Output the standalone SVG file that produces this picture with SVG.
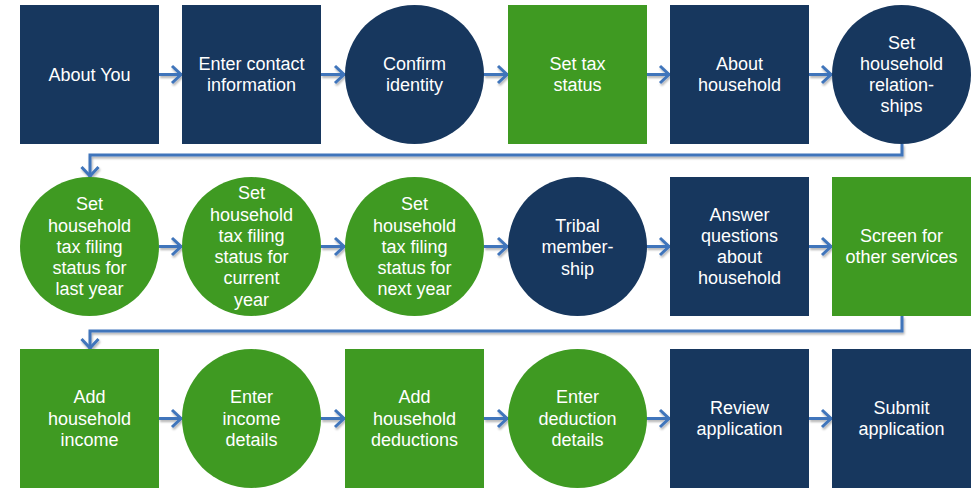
<svg xmlns="http://www.w3.org/2000/svg" width="979" height="489" viewBox="0 0 979 489">
  <style>
    .navy { fill: #17375e; }
    .green { fill: #3f9a22; }
    .lbl { font-family: "Liberation Sans", Arial, sans-serif; font-size: 18px; fill: #ffffff; text-anchor: middle; }
    .conn { fill: none; stroke: #3f74bb; stroke-width: 3; marker-end: url(#chev); }
  </style>
  <defs>
    <marker id="chev" markerUnits="userSpaceOnUse" viewBox="-14 -12 16 24" refX="0" refY="0" markerWidth="16" markerHeight="24" orient="auto">
      <path d="M-10,-8.5 L-1,0 L-10,8.5" fill="none" stroke="#3f74bb" stroke-width="3"/>
    </marker>
    <filter id="sh" x="-10%" y="-10%" width="120%" height="140%">
      <feDropShadow dx="1" dy="2" stdDeviation="1.2" flood-color="#000" flood-opacity="0.3"/>
    </filter>
  </defs>

  <rect width="979" height="489" fill="#ffffff"/>

  <!-- step connectors -->
  <g id="connectors" filter="url(#sh)">
    <line class="conn" x1="159" y1="74.5" x2="182" y2="74.5"/>
    <line class="conn" x1="321" y1="74.5" x2="345" y2="74.5"/>
    <line class="conn" x1="484" y1="74.5" x2="508" y2="74.5"/>
    <line class="conn" x1="646" y1="74.5" x2="670" y2="74.5"/>
    <line class="conn" x1="809" y1="74.5" x2="832" y2="74.5"/>
    <polyline class="conn" points="902,144 902,155 90,155 90,177"/>

    <line class="conn" x1="159" y1="246.5" x2="182" y2="246.5"/>
    <line class="conn" x1="321" y1="246.5" x2="345" y2="246.5"/>
    <line class="conn" x1="484" y1="246.5" x2="508" y2="246.5"/>
    <line class="conn" x1="646" y1="246.5" x2="670" y2="246.5"/>
    <line class="conn" x1="809" y1="246.5" x2="832" y2="246.5"/>
    <polyline class="conn" points="902,316 902,331 90,331 90,349"/>

    <line class="conn" x1="159" y1="418.5" x2="182" y2="418.5"/>
    <line class="conn" x1="321" y1="418.5" x2="345" y2="418.5"/>
    <line class="conn" x1="484" y1="418.5" x2="508" y2="418.5"/>
    <line class="conn" x1="646" y1="418.5" x2="670" y2="418.5"/>
    <line class="conn" x1="809" y1="418.5" x2="832" y2="418.5"/>
  </g>

  <!-- row 1 -->
  <g id="about-you">
    <rect class="navy" x="20" y="5" width="139" height="139"/>
    <text class="lbl" x="89.5" y="80.5">About You</text>
  </g>
  <g id="enter-contact">
    <rect class="navy" x="182" y="5" width="139" height="139"/>
    <text class="lbl" x="251.5" y="70"><tspan x="251.5">Enter contact</tspan><tspan x="251.5" dy="21.3">information</tspan></text>
  </g>
  <g id="confirm-identity">
    <circle class="navy" cx="414.5" cy="74.5" r="69.5"/>
    <text class="lbl" x="414.5" y="70"><tspan x="414.5">Confirm</tspan><tspan x="414.5" dy="21.3">identity</tspan></text>
  </g>
  <g id="set-tax-status">
    <rect class="green" x="508" y="5" width="139" height="139"/>
    <text class="lbl" x="577.5" y="70"><tspan x="577.5">Set tax</tspan><tspan x="577.5" dy="21.3">status</tspan></text>
  </g>
  <g id="about-household">
    <rect class="navy" x="670" y="5" width="139" height="139"/>
    <text class="lbl" x="739.5" y="70"><tspan x="739.5">About</tspan><tspan x="739.5" dy="21.3">household</tspan></text>
  </g>
  <g id="set-relationships">
    <circle class="navy" cx="901.5" cy="74.5" r="69.5"/>
    <text class="lbl" x="901.5" y="48.5"><tspan x="901.5">Set</tspan><tspan x="901.5" dy="21.3">household</tspan><tspan x="901.5" dy="21.3">relation-</tspan><tspan x="901.5" dy="21.3">ships</tspan></text>
  </g>

  <!-- row 2 -->
  <g id="filing-last-year">
    <circle class="green" cx="89.5" cy="246.5" r="69.5"/>
    <text class="lbl" x="89.5" y="210.2"><tspan x="89.5">Set</tspan><tspan x="89.5" dy="21.3">household</tspan><tspan x="89.5" dy="21.3">tax filing</tspan><tspan x="89.5" dy="21.3">status for</tspan><tspan x="89.5" dy="21.3">last year</tspan></text>
  </g>
  <g id="filing-current-year">
    <circle class="green" cx="251.5" cy="246.5" r="69.5"/>
    <text class="lbl" x="251.5" y="199.2"><tspan x="251.5">Set</tspan><tspan x="251.5" dy="21.3">household</tspan><tspan x="251.5" dy="21.3">tax filing</tspan><tspan x="251.5" dy="21.3">status for</tspan><tspan x="251.5" dy="21.3">current</tspan><tspan x="251.5" dy="21.3">year</tspan></text>
  </g>
  <g id="filing-next-year">
    <circle class="green" cx="414.5" cy="246.5" r="69.5"/>
    <text class="lbl" x="414.5" y="210.2"><tspan x="414.5">Set</tspan><tspan x="414.5" dy="21.3">household</tspan><tspan x="414.5" dy="21.3">tax filing</tspan><tspan x="414.5" dy="21.3">status for</tspan><tspan x="414.5" dy="21.3">next year</tspan></text>
  </g>
  <g id="tribal-membership">
    <circle class="navy" cx="577.5" cy="246.5" r="69.5"/>
    <text class="lbl" x="577.5" y="232"><tspan x="577.5">Tribal</tspan><tspan x="577.5" dy="21.3">member-</tspan><tspan x="577.5" dy="21.3">ship</tspan></text>
  </g>
  <g id="answer-questions">
    <rect class="navy" x="670" y="177" width="139" height="139"/>
    <text class="lbl" x="739.5" y="220.5"><tspan x="739.5">Answer</tspan><tspan x="739.5" dy="21.3">questions</tspan><tspan x="739.5" dy="21.3">about</tspan><tspan x="739.5" dy="21.3">household</tspan></text>
  </g>
  <g id="screen-services">
    <rect class="green" x="832" y="177" width="139" height="139"/>
    <text class="lbl" x="901.5" y="242"><tspan x="901.5">Screen for</tspan><tspan x="901.5" dy="21.3">other services</tspan></text>
  </g>

  <!-- row 3 -->
  <g id="add-income">
    <rect class="green" x="20" y="349" width="139" height="139"/>
    <text class="lbl" x="89.5" y="403.2"><tspan x="89.5">Add</tspan><tspan x="89.5" dy="21.3">household</tspan><tspan x="89.5" dy="21.3">income</tspan></text>
  </g>
  <g id="income-details">
    <circle class="green" cx="251.5" cy="418.5" r="69.5"/>
    <text class="lbl" x="251.5" y="403.2"><tspan x="251.5">Enter</tspan><tspan x="251.5" dy="21.3">income</tspan><tspan x="251.5" dy="21.3">details</tspan></text>
  </g>
  <g id="add-deductions">
    <rect class="green" x="345" y="349" width="139" height="139"/>
    <text class="lbl" x="414.5" y="403.2"><tspan x="414.5">Add</tspan><tspan x="414.5" dy="21.3">household</tspan><tspan x="414.5" dy="21.3">deductions</tspan></text>
  </g>
  <g id="deduction-details">
    <circle class="green" cx="577.5" cy="418.5" r="69.5"/>
    <text class="lbl" x="577.5" y="403.2"><tspan x="577.5">Enter</tspan><tspan x="577.5" dy="21.3">deduction</tspan><tspan x="577.5" dy="21.3">details</tspan></text>
  </g>
  <g id="review-application">
    <rect class="navy" x="670" y="349" width="139" height="139"/>
    <text class="lbl" x="739.5" y="413.8"><tspan x="739.5">Review</tspan><tspan x="739.5" dy="21.3">application</tspan></text>
  </g>
  <g id="submit-application">
    <rect class="navy" x="832" y="349" width="139" height="139"/>
    <text class="lbl" x="901.5" y="413.8"><tspan x="901.5">Submit</tspan><tspan x="901.5" dy="21.3">application</tspan></text>
  </g>
</svg>
